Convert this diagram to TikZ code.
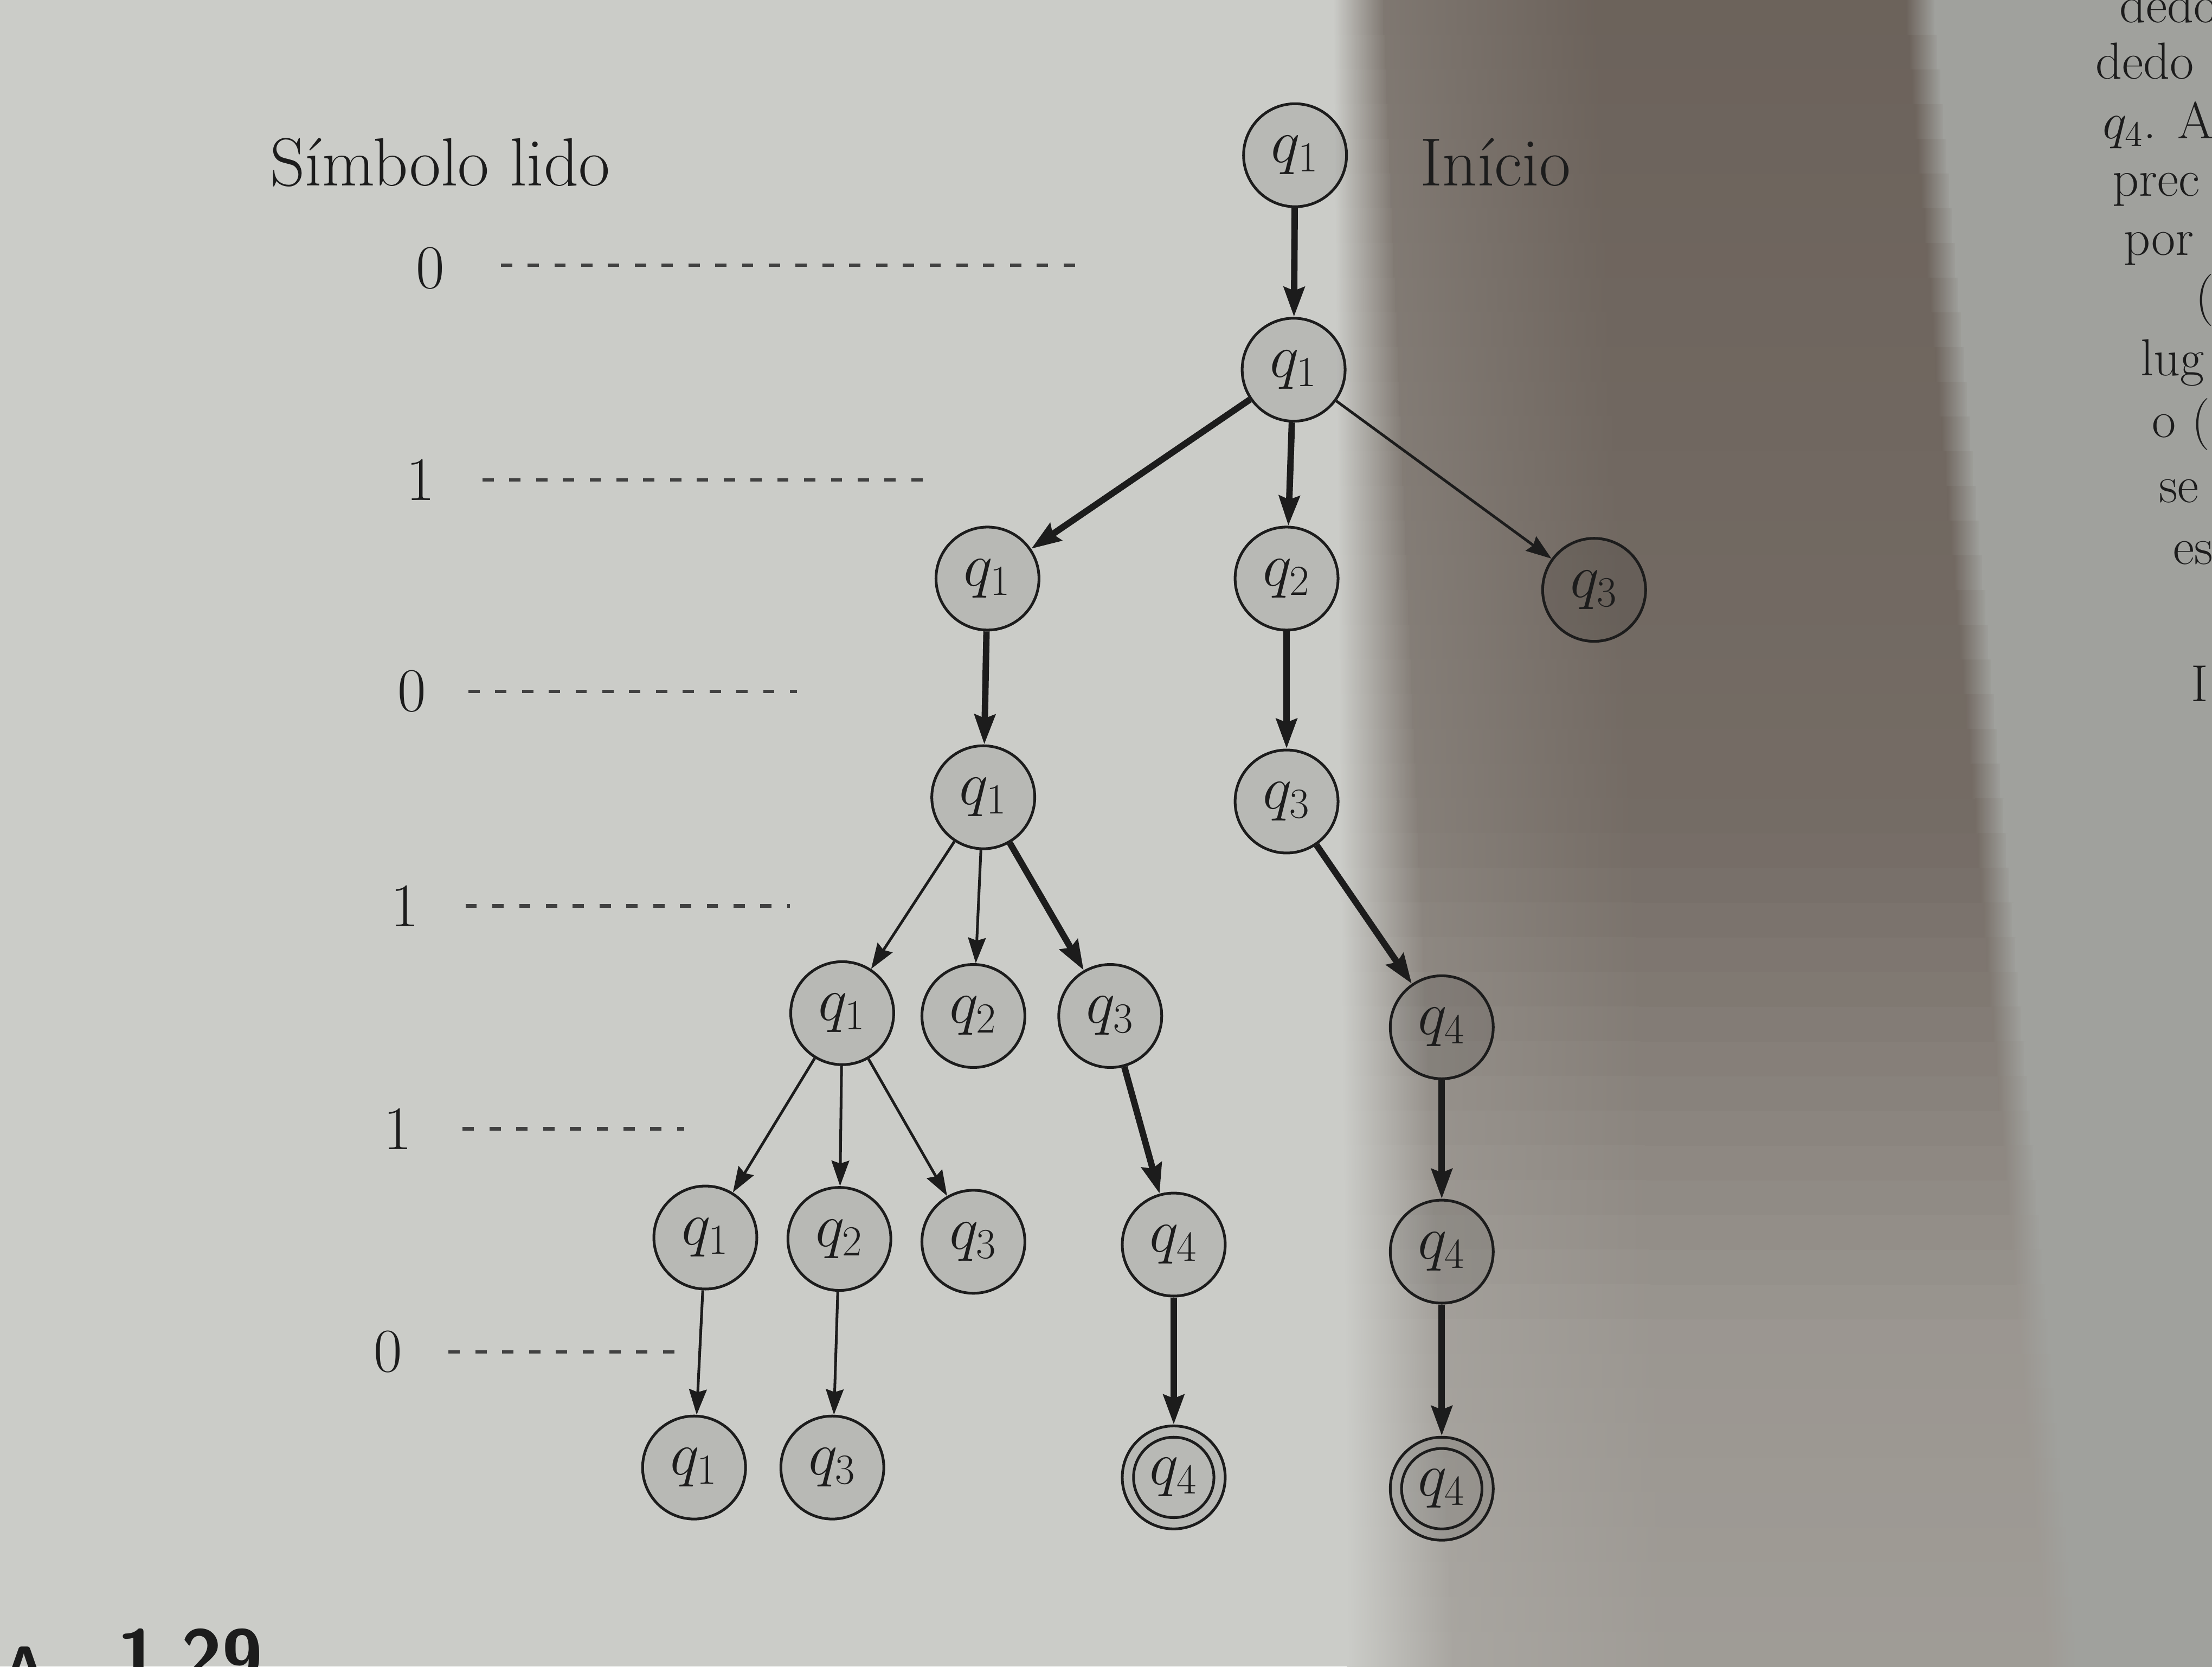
\documentclass[tikz,border=0pt]{standalone}
\usepackage{fontspec}
\usetikzlibrary{arrows.meta}

\definecolor{paper}{RGB}{203,204,200}
\definecolor{shadowc}{RGB}{30,12,2}
\definecolor{rpage}{RGB}{160,161,157}
\definecolor{ink}{RGB}{28,28,28}
\definecolor{dashc}{RGB}{65,65,65}

\tikzset{
  st/.style={circle, draw=ink, line width=1.1pt, fill=black, fill opacity=0.09, text opacity=1, draw opacity=1, minimum size=1.46cm, inner sep=0pt, text=ink, font=\fontsize{27}{27}\selectfont},
  acc/.style={st, path picture={\draw[ink, line width=1.1pt, draw opacity=1] (path picture bounding box.center) circle[radius=0.57cm];}},
  heavy/.style={draw=ink, line width=2.6pt, -{Stealth[length=0.42cm,width=0.29cm,inset=0.05cm]}},
  light/.style={draw=ink, line width=1.1pt, -{Stealth[length=0.36cm,width=0.25cm,inset=0.04cm]}},
  lvl/.style={draw=dashc, line width=1.4pt, dash pattern=on 0.16cm off 0.22cm},
  lab/.style={text=ink, font=\fontsize{27.5}{27.5}\selectfont, inner sep=0pt},
  dig/.style={text=ink, font=\fontsize{25}{25}\selectfont, inner sep=0pt},
  rtxt/.style={text=ink, font=\fontsize{21}{21}\selectfont, inner sep=0pt, anchor=base west},
}

\begin{document}
\begin{tikzpicture}[x=0.02cm, y=-0.02cm]
\useasboundingbox (0,0) rectangle (1568,1181);
\begin{scope}
\clip (0,0) rectangle (1568,1181);
% paper and page shadow
\fill[paper] (0,0) rectangle (1568,1181);
\foreach \i in {0,...,47} {
  \pgfmathsetmacro{\t}{(\i+0.5)/48}
  \pgfmathsetmacro{\ya}{\i*24.6042}
  \pgfmathsetmacro{\yb}{(\i+1)*24.6042+1}
  \pgfmathsetmacro{\al}{\t<0.5 ? 0.55-0.1*\t : (\t<0.8 ? 0.5-0.22*(\t-0.5)/0.3 : 0.28-0.03*(\t-0.8)/0.2)}
  \pgfmathsetmacro{\xs}{945+10*\t}
  \pgfmathsetmacro{\xa}{\xs+35+40*\t}
  \pgfmathsetmacro{\xb}{\xa+150}
  \pgfmathsetmacro{\xr}{1350+102*\t}
  \pgfmathsetmacro{\xe}{\xr+20}
  \pgfmathsetmacro{\pA}{100-80*\al}
  \pgfmathsetmacro{\pC}{100-100*\al}
  \shade[left color=paper, right color=paper!\pA!shadowc] (\xs,\ya) rectangle (\xa+1,\yb);
  \shade[left color=paper!\pA!shadowc, right color=paper!\pC!shadowc] (\xa,\ya) rectangle (\xb+1,\yb);
  \fill[paper!\pC!shadowc] (\xb,\ya) rectangle (\xr+1,\yb);
  \shade[left color=paper!\pC!shadowc, right color=rpage] (\xr,\ya) rectangle (\xe+1,\yb);
  \fill[rpage] (\xe,\ya) rectangle (1568,\yb);
}

% labels
\node[lab] (sl) at (312,115) {Símbolo lido};
\node[lab] (ini) at (1060,115) {Início};

\node[dig] (n1) at (305,190) {0};
\node[dig] (n2) at (298,340) {1};
\node[dig] (n3) at (292,490) {0};
\node[dig] (n4) at (287,642) {1};
\node[dig] (n5) at (282,800) {1};
\node[dig] (n6) at (275,958) {0};

\coordinate (l1a) at (355,188); \coordinate (l1b) at (765,188);
\coordinate (l2a) at (342,340); \coordinate (l2b) at (660,340);
\coordinate (l3a) at (332,490); \coordinate (l3b) at (565,490);
\coordinate (l4a) at (330,642); \coordinate (l4b) at (560,642);
\coordinate (l5a) at (328,800); \coordinate (l5b) at (485,800);
\coordinate (l6a) at (318,958); \coordinate (l6b) at (480,958);
\draw[lvl] (l1a) -- (l1b);
\draw[lvl] (l2a) -- (l2b);
\draw[lvl] (l3a) -- (l3b);
\draw[lvl] (l4a) -- (l4b);
\draw[lvl] (l5a) -- (l5b);
\draw[lvl] (l6a) -- (l6b);

% states
\node[st] (a) at (918,110) {$q_1$};
\node[st] (b) at (917,262) {$q_1$};
\node[st] (c1) at (700,410) {$q_1$};
\node[st] (c2) at (912,410) {$q_2$};
\node[st] (c3) at (1130,418) {$q_3$};
\node[st] (d1) at (697,565) {$q_1$};
\node[st] (d3) at (912,568) {$q_3$};
\node[st] (e1) at (597,718) {$q_1$};
\node[st] (e2) at (690,720) {$q_2$};
\node[st] (e3) at (787,720) {$q_3$};
\node[st] (e4) at (1022,728) {$q_4$};
\node[st] (f1) at (500,877) {$q_1$};
\node[st] (f2) at (595,878) {$q_2$};
\node[st] (f3) at (690,880) {$q_3$};
\node[st] (f4) at (832,882) {$q_4$};
\node[st] (f5) at (1022,887) {$q_4$};
\node[st] (g1) at (492,1040) {$q_1$};
\node[st] (g3) at (590,1040) {$q_3$};
\node[acc] (g4) at (832,1047) {$q_4$};
\node[acc] (g5) at (1022,1055) {$q_4$};

% edges
\draw[heavy] (a) -- (b);
\draw[heavy] (b) -- (c1);
\draw[heavy] (b) -- (c2);
\draw[light] (b) -- (c3);
\draw[heavy] (c1) -- (d1);
\draw[heavy] (c2) -- (d3);
\draw[light] (d1) -- (e1);
\draw[light] (d1) -- (e2);
\draw[heavy] (d1) -- (e3);
\draw[heavy] (d3) -- (e4);
\draw[light] (e1) -- (f1);
\draw[light] (e1) -- (f2);
\draw[light] (e1) -- (f3);
\draw[heavy] (e3) -- (f4);
\draw[heavy] (e4) -- (f5);
\draw[light] (f1) -- (g1);
\draw[light] (f2) -- (g3);
\draw[heavy] (f4) -- (g4);
\draw[heavy] (f5) -- (g5);

% facing page text fragments
\node[rtxt] (r1) at (1502,16) {dedos};
\node[rtxt] (r2) at (1485,56) {dedo};
\node[rtxt] (r3) at (1490,98) {$q_4$. A};
\node[rtxt] (r4) at (1497,139) {prec};
\node[rtxt] (r5) at (1505,181) {por};
\node[rtxt] (r6) at (1556,222) {(};
\node[rtxt] (r7) at (1517,266) {lug};
\node[rtxt] (r8) at (1525,310) {o (};
\node[rtxt] (r9) at (1530,356) {se};
\node[rtxt] (r10) at (1540,400) {es};
\node[rtxt] (r11) at (1553,497) {I};

% caption fragment
\node[anchor=base west, inner sep=0pt, text=ink, font=\sffamily\bfseries\fontsize{22}{22}\selectfont] (capA) at (3,1194) {A};
\node[anchor=base west, inner sep=0pt, text=ink, font=\sffamily\bfseries\fontsize{30}{30}\selectfont] (capN) at (83,1192) {1.29};
\end{scope}
\end{tikzpicture}
\end{document}
